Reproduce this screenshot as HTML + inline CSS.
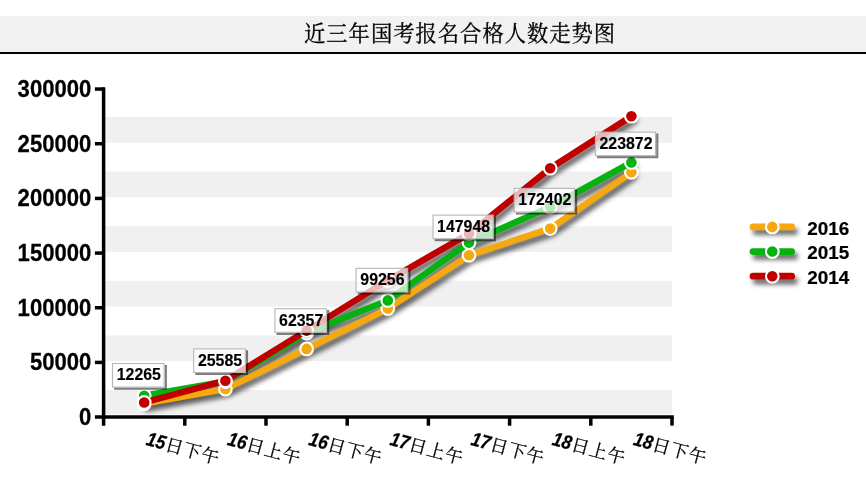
<!DOCTYPE html><html lang="zh"><head><meta charset="utf-8"><title>chart</title>
<style>html,body{margin:0;padding:0;background:#fff}svg{display:block}text{font-family:"Liberation Sans",sans-serif;font-weight:bold;fill:#000}</style></head><body>
<svg role="img" aria-label="近三年国考报名合格人数走势图" width="866" height="481" viewBox="0 0 866 481" style="opacity:0.999">
<defs>
<filter id="ls" filterUnits="userSpaceOnUse" x="0" y="0" width="866" height="481"><feGaussianBlur stdDeviation="2.4"/></filter>
<filter id="bs" filterUnits="userSpaceOnUse" x="0" y="0" width="866" height="481"><feGaussianBlur stdDeviation="0.75"/></filter>
</defs>
<rect width="866" height="481" fill="#fff"/>
<rect x="0" y="16" width="866" height="36.5" fill="#f1f1f1"/>
<rect x="0" y="52" width="866" height="2" fill="#000"/>
<text x="304" y="40.92" font-size="21.3" letter-spacing="1" text-anchor="start" stroke="#000" stroke-width="0.3" style="font-family:'Liberation Serif','Noto Serif CJK SC',serif;font-weight:normal">近三年国考报名合格人数走势图</text>
<rect x="105" y="117.0" width="567" height="25.7" fill="#f0f0f0"/>
<rect x="105" y="171.6" width="567" height="25.7" fill="#f0f0f0"/>
<rect x="105" y="226.2" width="567" height="25.7" fill="#f0f0f0"/>
<rect x="105" y="280.8" width="567" height="25.7" fill="#f0f0f0"/>
<rect x="105" y="335.4" width="567" height="25.7" fill="#f0f0f0"/>
<rect x="105" y="390.0" width="567" height="24.3" fill="#f0f0f0"/>
<g stroke="#000" stroke-width="3.5" fill="none">
<path d="M103.6 87.3V425.7"/>
<path d="M94.9 417.1H673.8"/>
<path d="M94.9 362.43H103.6"/>
<path d="M94.9 307.75H103.6"/>
<path d="M94.9 253.08H103.6"/>
<path d="M94.9 198.40H103.6"/>
<path d="M94.9 143.73H103.6"/>
<path d="M94.9 89.05H103.6"/>
<path d="M184.80 417.1V425.7"/>
<path d="M266.00 417.1V425.7"/>
<path d="M347.20 417.1V425.7"/>
<path d="M428.40 417.1V425.7"/>
<path d="M509.60 417.1V425.7"/>
<path d="M590.80 417.1V425.7"/>
<path d="M672.00 417.1V425.7"/>
</g>
<text transform="translate(91.30,425.10) scale(1.0,1.05)" font-size="22.1" text-anchor="end" stroke="#000" stroke-width="0.25">0</text>
<text transform="translate(91.30,370.43) scale(1.0,1.05)" font-size="22.1" text-anchor="end" stroke="#000" stroke-width="0.25">50000</text>
<text transform="translate(91.30,315.75) scale(1.0,1.05)" font-size="22.1" text-anchor="end" stroke="#000" stroke-width="0.25">100000</text>
<text transform="translate(91.30,261.08) scale(1.0,1.05)" font-size="22.1" text-anchor="end" stroke="#000" stroke-width="0.25">150000</text>
<text transform="translate(91.30,206.40) scale(1.0,1.05)" font-size="22.1" text-anchor="end" stroke="#000" stroke-width="0.25">200000</text>
<text transform="translate(91.30,151.73) scale(1.0,1.05)" font-size="22.1" text-anchor="end" stroke="#000" stroke-width="0.25">250000</text>
<text transform="translate(91.30,97.05) scale(1.0,1.05)" font-size="22.1" text-anchor="end" stroke="#000" stroke-width="0.25">300000</text>
<g transform="translate(3.0,4.6)" filter="url(#ls)" opacity="0.62" stroke="#000" stroke-width="6.4" fill="none" stroke-linejoin="round" stroke-linecap="round">
<path d="M144.20 403.69 L225.40 389.12 L306.60 348.91 L387.80 308.56 L469.00 255.32 L550.20 228.58 L631.40 172.30"/>
<path d="M144.20 395.70 L225.40 381.50 L306.60 333.00 L387.80 300.40 L469.00 242.60 L550.20 207.10 L631.40 162.40"/>
<path d="M144.20 402.50 L225.40 380.70 L306.60 330.60 L387.80 280.40 L469.00 233.70 L550.20 168.20 L631.40 116.20"/>
</g>
<path d="M144.20 403.69 L225.40 389.12 L306.60 348.91 L387.80 308.56 L469.00 255.32 L550.20 228.58 L631.40 172.30" stroke="#F5A80F" stroke-width="6.4" fill="none" stroke-linejoin="round" stroke-linecap="round"/>
<circle cx="144.20" cy="403.69" r="6.35" fill="#F5A80F" stroke="#fff" stroke-width="2.1"/>
<circle cx="225.40" cy="389.12" r="6.35" fill="#F5A80F" stroke="#fff" stroke-width="2.1"/>
<circle cx="306.60" cy="348.91" r="6.35" fill="#F5A80F" stroke="#fff" stroke-width="2.1"/>
<circle cx="387.80" cy="308.56" r="6.35" fill="#F5A80F" stroke="#fff" stroke-width="2.1"/>
<circle cx="469.00" cy="255.32" r="6.35" fill="#F5A80F" stroke="#fff" stroke-width="2.1"/>
<circle cx="550.20" cy="228.58" r="6.35" fill="#F5A80F" stroke="#fff" stroke-width="2.1"/>
<circle cx="631.40" cy="172.30" r="6.35" fill="#F5A80F" stroke="#fff" stroke-width="2.1"/>
<path d="M144.20 395.70 L225.40 381.50 L306.60 333.00 L387.80 300.40 L469.00 242.60 L550.20 207.10 L631.40 162.40" stroke="#06B20F" stroke-width="6.4" fill="none" stroke-linejoin="round" stroke-linecap="round"/>
<circle cx="144.20" cy="395.70" r="6.35" fill="#06B20F" stroke="#fff" stroke-width="2.1"/>
<circle cx="225.40" cy="381.50" r="6.35" fill="#06B20F" stroke="#fff" stroke-width="2.1"/>
<circle cx="306.60" cy="333.00" r="6.35" fill="#06B20F" stroke="#fff" stroke-width="2.1"/>
<circle cx="387.80" cy="300.40" r="6.35" fill="#06B20F" stroke="#fff" stroke-width="2.1"/>
<circle cx="469.00" cy="242.60" r="6.35" fill="#06B20F" stroke="#fff" stroke-width="2.1"/>
<circle cx="550.20" cy="207.10" r="6.35" fill="#06B20F" stroke="#fff" stroke-width="2.1"/>
<circle cx="631.40" cy="162.40" r="6.35" fill="#06B20F" stroke="#fff" stroke-width="2.1"/>
<path d="M144.20 402.50 L225.40 380.70 L306.60 330.60 L387.80 280.40 L469.00 233.70 L550.20 168.20 L631.40 116.20" stroke="#C00000" stroke-width="6.4" fill="none" stroke-linejoin="round" stroke-linecap="round"/>
<circle cx="144.20" cy="402.50" r="6.35" fill="#C00000" stroke="#fff" stroke-width="2.1"/>
<circle cx="225.40" cy="380.70" r="6.35" fill="#C00000" stroke="#fff" stroke-width="2.1"/>
<circle cx="306.60" cy="330.60" r="6.35" fill="#C00000" stroke="#fff" stroke-width="2.1"/>
<circle cx="387.80" cy="280.40" r="6.35" fill="#C00000" stroke="#fff" stroke-width="2.1"/>
<circle cx="469.00" cy="233.70" r="6.35" fill="#C00000" stroke="#fff" stroke-width="2.1"/>
<circle cx="550.20" cy="168.20" r="6.35" fill="#C00000" stroke="#fff" stroke-width="2.1"/>
<circle cx="631.40" cy="116.20" r="6.35" fill="#C00000" stroke="#fff" stroke-width="2.1"/>
<path d="M164.71 364.89h2.2v24.80h-52.82v-2.2h50.62z" fill="#000" opacity="0.5" filter="url(#bs)"/>
<rect x="112.49" y="363.49" width="51.62" height="23.6" fill="#fff" fill-opacity="0.71" stroke="#b6b6b6" stroke-width="1.1"/>
<text transform="translate(138.80,380.39) scale(1.0,1.01)" font-size="15.9" text-anchor="middle" stroke="#000" stroke-width="0.15">12265</text>
<path d="M245.91 350.32h2.2v24.80h-52.82v-2.2h50.62z" fill="#000" opacity="0.5" filter="url(#bs)"/>
<rect x="193.69" y="348.92" width="51.62" height="23.6" fill="#fff" fill-opacity="0.71" stroke="#b6b6b6" stroke-width="1.1"/>
<text transform="translate(220.00,365.82) scale(1.0,1.01)" font-size="15.9" text-anchor="middle" stroke="#000" stroke-width="0.15">25585</text>
<path d="M327.11 310.11h2.2v24.80h-52.82v-2.2h50.62z" fill="#000" opacity="0.5" filter="url(#bs)"/>
<rect x="274.89" y="308.71" width="51.62" height="23.6" fill="#fff" fill-opacity="0.71" stroke="#b6b6b6" stroke-width="1.1"/>
<text transform="translate(301.20,325.61) scale(1.0,1.01)" font-size="15.9" text-anchor="middle" stroke="#000" stroke-width="0.15">62357</text>
<path d="M408.31 269.76h2.2v24.80h-52.82v-2.2h50.62z" fill="#000" opacity="0.5" filter="url(#bs)"/>
<rect x="356.09" y="268.36" width="51.62" height="23.6" fill="#fff" fill-opacity="0.71" stroke="#b6b6b6" stroke-width="1.1"/>
<text transform="translate(382.40,285.26) scale(1.0,1.01)" font-size="15.9" text-anchor="middle" stroke="#000" stroke-width="0.15">99256</text>
<path d="M493.77 216.52h2.2v24.80h-61.34v-2.2h59.14z" fill="#000" opacity="0.5" filter="url(#bs)"/>
<rect x="433.03" y="215.12" width="60.14" height="23.6" fill="#fff" fill-opacity="0.71" stroke="#b6b6b6" stroke-width="1.1"/>
<text transform="translate(463.60,232.02) scale(1.0,1.01)" font-size="15.9" text-anchor="middle" stroke="#000" stroke-width="0.15">147948</text>
<path d="M574.97 189.78h2.2v24.80h-61.34v-2.2h59.14z" fill="#000" opacity="0.5" filter="url(#bs)"/>
<rect x="514.23" y="188.38" width="60.14" height="23.6" fill="#fff" fill-opacity="0.71" stroke="#b6b6b6" stroke-width="1.1"/>
<text transform="translate(544.80,205.28) scale(1.0,1.01)" font-size="15.9" text-anchor="middle" stroke="#000" stroke-width="0.15">172402</text>
<path d="M656.17 133.50h2.2v24.80h-61.34v-2.2h59.14z" fill="#000" opacity="0.5" filter="url(#bs)"/>
<rect x="595.43" y="132.10" width="60.14" height="23.6" fill="#fff" fill-opacity="0.71" stroke="#b6b6b6" stroke-width="1.1"/>
<text transform="translate(626.00,149.00) scale(1.0,1.01)" font-size="15.9" text-anchor="middle" stroke="#000" stroke-width="0.15">223872</text>
<g transform="translate(3.0,4.6)" filter="url(#ls)" opacity="0.62"><path d="M753.0 226.90H791.7" stroke="#000" stroke-width="6.7" stroke-linecap="round"/></g>
<path d="M753.0 226.90H791.7" stroke="#F5A80F" stroke-width="6.7" stroke-linecap="round"/>
<circle cx="772.3" cy="226.90" r="6.35" fill="#F5A80F" stroke="#fff" stroke-width="2.1"/>
<text transform="translate(807.30,234.70) scale(1.0,0.99)" font-size="18.9" text-anchor="start" stroke="#000" stroke-width="0.2">2016</text>
<g transform="translate(3.0,4.6)" filter="url(#ls)" opacity="0.62"><path d="M753.0 251.55H791.7" stroke="#000" stroke-width="6.7" stroke-linecap="round"/></g>
<path d="M753.0 251.55H791.7" stroke="#06B20F" stroke-width="6.7" stroke-linecap="round"/>
<circle cx="772.3" cy="251.55" r="6.35" fill="#06B20F" stroke="#fff" stroke-width="2.1"/>
<text transform="translate(807.30,259.35) scale(1.0,0.99)" font-size="18.9" text-anchor="start" stroke="#000" stroke-width="0.2">2015</text>
<g transform="translate(3.0,4.6)" filter="url(#ls)" opacity="0.62"><path d="M753.0 276.20H791.7" stroke="#000" stroke-width="6.7" stroke-linecap="round"/></g>
<path d="M753.0 276.20H791.7" stroke="#C00000" stroke-width="6.7" stroke-linecap="round"/>
<circle cx="772.3" cy="276.20" r="6.35" fill="#C00000" stroke="#fff" stroke-width="2.1"/>
<text transform="translate(807.30,284.00) scale(1.0,0.99)" font-size="18.9" text-anchor="start" stroke="#000" stroke-width="0.2">2014</text>
<g transform="translate(145.20,431.50) rotate(15)">
<text transform="translate(3.50,12.76) scale(0.93,1.05)" font-size="18.6" text-anchor="start" font-style="italic" stroke="#000" stroke-width="0.25">15</text>
<text x="23.10" y="12.96" font-size="17.76" letter-spacing="0.84" text-anchor="start" stroke="#000" stroke-width="0.25" style="font-family:'Liberation Serif','Noto Serif CJK SC',serif;font-weight:normal">日下午</text>
</g>
<g transform="translate(226.40,431.50) rotate(15)">
<text transform="translate(3.50,12.76) scale(0.93,1.05)" font-size="18.6" text-anchor="start" font-style="italic" stroke="#000" stroke-width="0.25">16</text>
<text x="23.10" y="12.96" font-size="17.76" letter-spacing="0.84" text-anchor="start" stroke="#000" stroke-width="0.25" style="font-family:'Liberation Serif','Noto Serif CJK SC',serif;font-weight:normal">日上午</text>
</g>
<g transform="translate(307.60,431.50) rotate(15)">
<text transform="translate(3.50,12.76) scale(0.93,1.05)" font-size="18.6" text-anchor="start" font-style="italic" stroke="#000" stroke-width="0.25">16</text>
<text x="23.10" y="12.96" font-size="17.76" letter-spacing="0.84" text-anchor="start" stroke="#000" stroke-width="0.25" style="font-family:'Liberation Serif','Noto Serif CJK SC',serif;font-weight:normal">日下午</text>
</g>
<g transform="translate(388.80,431.50) rotate(15)">
<text transform="translate(3.50,12.76) scale(0.93,1.05)" font-size="18.6" text-anchor="start" font-style="italic" stroke="#000" stroke-width="0.25">17</text>
<text x="23.10" y="12.96" font-size="17.76" letter-spacing="0.84" text-anchor="start" stroke="#000" stroke-width="0.25" style="font-family:'Liberation Serif','Noto Serif CJK SC',serif;font-weight:normal">日上午</text>
</g>
<g transform="translate(470.00,431.50) rotate(15)">
<text transform="translate(3.50,12.76) scale(0.93,1.05)" font-size="18.6" text-anchor="start" font-style="italic" stroke="#000" stroke-width="0.25">17</text>
<text x="23.10" y="12.96" font-size="17.76" letter-spacing="0.84" text-anchor="start" stroke="#000" stroke-width="0.25" style="font-family:'Liberation Serif','Noto Serif CJK SC',serif;font-weight:normal">日下午</text>
</g>
<g transform="translate(551.20,431.50) rotate(15)">
<text transform="translate(3.50,12.76) scale(0.93,1.05)" font-size="18.6" text-anchor="start" font-style="italic" stroke="#000" stroke-width="0.25">18</text>
<text x="23.10" y="12.96" font-size="17.76" letter-spacing="0.84" text-anchor="start" stroke="#000" stroke-width="0.25" style="font-family:'Liberation Serif','Noto Serif CJK SC',serif;font-weight:normal">日上午</text>
</g>
<g transform="translate(632.40,431.50) rotate(15)">
<text transform="translate(3.50,12.76) scale(0.93,1.05)" font-size="18.6" text-anchor="start" font-style="italic" stroke="#000" stroke-width="0.25">18</text>
<text x="23.10" y="12.96" font-size="17.76" letter-spacing="0.84" text-anchor="start" stroke="#000" stroke-width="0.25" style="font-family:'Liberation Serif','Noto Serif CJK SC',serif;font-weight:normal">日下午</text>
</g>
</svg></body></html>
